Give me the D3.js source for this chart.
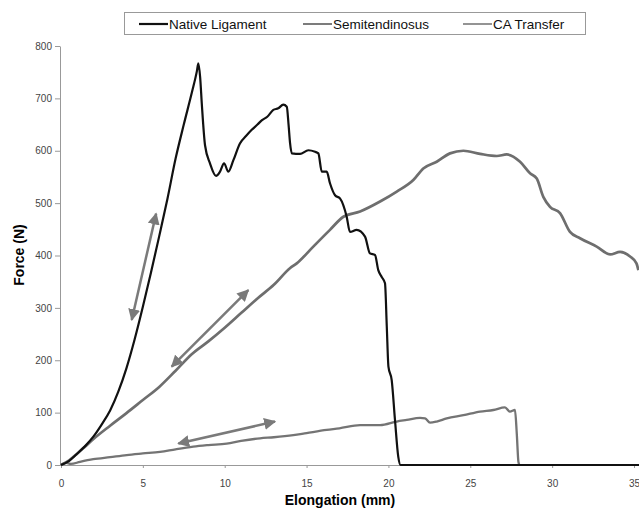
<!DOCTYPE html>
<html>
<head>
<meta charset="utf-8">
<script src="https://cdn.jsdelivr.net/npm/d3@7"></script>
<style>
  body { margin: 0; background: #fff; }
  svg { display: block; font-family: "Liberation Sans", Arial, sans-serif; }
</style>
</head>
<body>
<svg id="chart" width="639" height="509"></svg>
<script>
// [elongation mm, force N]
var nativeLigament = [[0,0],[0.5,8],[1,22],[1.5,37],[2,55],[2.5,78],[3,104],[3.5,140],[4,185],[4.5,240],[5,302],[5.5,368],[6,437],[6.5,508],[7,585],[7.5,650],[8,712],[8.3,752],[8.39,767],[8.5,740],[8.6,690],[8.8,610],[9.1,576],[9.47,552],[9.71,560],[9.96,576],[10.22,560],[10.53,582],[10.93,614],[11.3,628],[11.65,640],[12,650],[12.26,658],[12.6,665],[12.97,678],[13.27,681],[13.58,688],[13.79,684],[13.9,650],[13.99,615],[14.1,595],[14.6,594],[15.11,601],[15.52,598],[15.72,595],[15.93,560],[16.23,560],[16.43,538],[16.74,515],[17.04,509],[17.45,474],[17.65,445],[18.06,449],[18.57,436],[18.87,404],[19.18,401],[19.38,372],[19.59,359],[19.79,347],[19.9,264],[20,188],[20.2,162],[20.4,86],[20.6,16],[20.74,0],[35.5,0]];
var semitendinosus = [[0,0],[0.5,9],[1,22],[1.5,36],[2,50],[3,75],[4,99],[5,124],[6,149],[7,180],[8,212],[9,236],[10,262],[11,290],[12,318],[13,344],[14,376],[14.4,385],[15.41,417],[16.43,449],[17.25,474],[18.27,484],[19.49,503],[20.51,522],[21.52,544],[22.13,566],[22.95,579],[23.76,595],[24.58,600],[25.6,594],[26.62,590],[27.23,593],[28.04,579],[28.65,557],[29.06,547],[29.46,512],[29.87,493],[30.48,481],[31.09,445],[31.7,433],[32.72,417],[33.54,402],[34.15,407],[34.76,398],[35.15,385],[35.27,372]];
var caTransfer = [[0,0],[0.3,4],[0.6,2],[1.16,6],[1.97,11],[3,15],[4.01,19],[5,22],[6.05,25],[7,30],[8.08,35],[9,38],[10.12,41],[11,46],[12.16,51],[13,53],[14.19,57],[15,61],[16.23,67],[17,70],[18.27,76],[19.49,76],[20.51,83],[21.12,86],[21.93,90],[22.24,89],[22.54,81],[22.95,83],[23.56,89],[24.58,95],[25.6,102],[26.41,105],[27.12,110],[27.42,102],[27.73,105],[27.84,60],[27.94,6],[28,0]];
// double-headed arrows [[x1,y1],[x2,y2]]
var arrows = [[[4.32,277],[5.81,480]],[[6.76,188],[11.44,334]],[[7.17,41],[13.07,83]]];
var seriesNames = ["Native Ligament", "Semitendinosus", "CA Transfer"];
var xTicks = [0,5,10,15,20,25,30,35];
var yTicks = [0,100,200,300,400,500,600,700,800];

var svg = d3.select('#chart');
var x = d3.scaleLinear().domain([0,35]).range([61,634]);
var y = d3.scaleLinear().domain([0,800]).range([465,46]);

// axes
var gx = svg.append('g').attr('transform','translate(0,465)')
  .call(d3.axisBottom(x).tickValues(xTicks).tickSize(3).tickSizeOuter(0));
gx.select('.domain').attr('d','M60,0.5H639');
var gy = svg.append('g').attr('transform','translate(60,0)')
  .call(d3.axisLeft(y).tickValues(yTicks).tickSize(5).tickSizeOuter(0));
svg.selectAll('.domain').attr('stroke','#999');
svg.selectAll('.tick line').attr('stroke','#999');
svg.selectAll('.tick text').attr('fill','#444').attr('font-size',10)
  .attr('font-family','"Liberation Sans", Arial, sans-serif');
gx.selectAll('.tick text').attr('dy','1.6em');
gy.selectAll('.tick text').attr('x',-8);

svg.append('text').attr('x',340).attr('y',505).attr('text-anchor','middle')
  .attr('font-weight','bold').attr('font-size',14).text('Elongation (mm)');
svg.append('text').attr('transform','translate(24,255) rotate(-90)').attr('text-anchor','middle')
  .attr('font-weight','bold').attr('font-size',14).text('Force (N)');

// curves
var line = d3.line().x(d => x(d[0])).y(d => y(d[1])).curve(d3.curveMonotoneX);
svg.append('path').datum(semitendinosus).attr('d',line).attr('fill','none')
  .attr('stroke','#6e6e6e').attr('stroke-width',2.7).attr('stroke-linejoin','round');
svg.append('path').datum(caTransfer).attr('d',line).attr('fill','none')
  .attr('stroke','#747474').attr('stroke-width',2.3).attr('stroke-linejoin','round');
svg.append('path').datum(nativeLigament).attr('d',line).attr('fill','none')
  .attr('stroke','#111').attr('stroke-width',2.2).attr('stroke-linejoin','round');

// arrows
svg.append('defs').append('marker').attr('id','head')
  .attr('viewBox','0 0 10 10').attr('refX',9).attr('refY',5)
  .attr('markerWidth',12).attr('markerHeight',12).attr('markerUnits','userSpaceOnUse')
  .attr('orient','auto-start-reverse')
  .append('path').attr('d','M0,0L10,5L0,10z').attr('fill','#7a7a7a');
svg.append('g').selectAll('line').data(arrows).join('line')
  .attr('x1',d => x(d[0][0])).attr('y1',d => y(d[0][1]))
  .attr('x2',d => x(d[1][0])).attr('y2',d => y(d[1][1]))
  .attr('stroke','#7a7a7a').attr('stroke-width',2.5)
  .attr('marker-start','url(#head)').attr('marker-end','url(#head)');

// legend
var legend = svg.append('g');
legend.append('rect').attr('x',124.5).attr('y',12.5).attr('width',461).attr('height',22)
  .attr('fill','#fff').attr('stroke','#999');
var legX = [139,303,463];
var legColors = ['#111','#6e6e6e','#888'];
seriesNames.forEach(function(n,i){
  legend.append('line').attr('x1',legX[i]).attr('x2',legX[i]+29).attr('y1',24).attr('y2',24)
    .attr('stroke',legColors[i]).attr('stroke-width',i==0?2.2:1.8);
  legend.append('text').attr('x',legX[i]+30).attr('y',28.5).attr('font-size',13.5)
    .attr('fill','#111').text(n);
});
</script>
</body>
</html>
